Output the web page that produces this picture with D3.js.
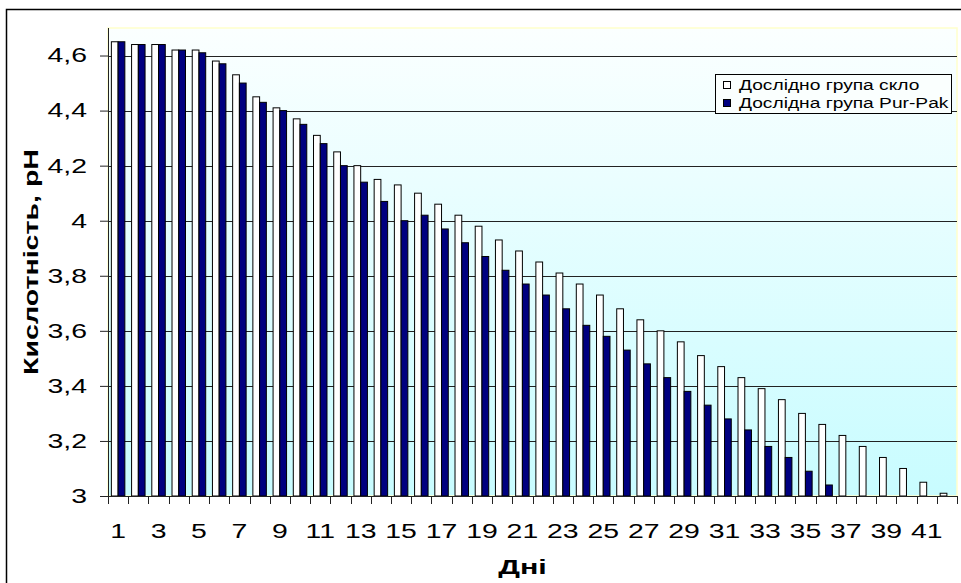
<!DOCTYPE html>
<html>
<head>
<meta charset="utf-8">
<script src="https://cdn.jsdelivr.net/npm/d3@7"></script>
<style>
  body { margin: 0; background: #fff; }
  text { font-family: Arial, "Liberation Sans", sans-serif; }
</style>
</head>
<body>
<div id="canvas"></div>
<script>
"use strict";

/* ---- data ---- */
let days = [1, 2, 3, 4, 5, 6, 7, 8, 9, 10, 11, 12, 13, 14, 15, 16, 17, 18, 19, 20, 21,
            22, 23, 24, 25, 26, 27, 28, 29, 30, 31, 32, 33, 34, 35, 36, 37, 38, 39, 40, 41, 42];

let seriesNames = ["Дослідно група скло", "Дослідна група Pur-Pak"];

let glassValues = [4.65, 4.64, 4.64, 4.62, 4.62, 4.58, 4.53, 4.45, 4.41, 4.37, 4.31, 4.25, 4.20, 4.15,
                   4.13, 4.10, 4.06, 4.02, 3.98, 3.93, 3.89, 3.85, 3.81, 3.77, 3.73, 3.68, 3.64, 3.60,
                   3.56, 3.51, 3.47, 3.43, 3.39, 3.35, 3.30, 3.26, 3.22, 3.18, 3.14, 3.10, 3.05, 3.01];

let purPakValues = [4.65, 4.64, 4.64, 4.62, 4.61, 4.57, 4.50, 4.43, 4.40, 4.35, 4.28, 4.20, 4.14, 4.07,
                    4.00, 4.02, 3.97, 3.92, 3.87, 3.82, 3.77, 3.73, 3.68, 3.62, 3.58, 3.53, 3.48, 3.43,
                    3.38, 3.33, 3.28, 3.24, 3.18, 3.14, 3.09, 3.04, null, null, null, null, null, null];

let yTicks = [3, 3.2, 3.4, 3.6, 3.8, 4, 4.2, 4.4, 4.6];
let xLabelDays = [1, 3, 5, 7, 9, 11, 13, 15, 17, 19, 21, 23, 25, 27, 29, 31, 33, 35, 37, 39, 41];

/* ---- layout ---- */
let svgWidth = 961;
let svgHeight = 583;

let plotLeft = 108;
let plotRight = 957;
let plotTop = 28;
let plotBottom = 496;

let colors = ["#ffffff", "#000080"];

let svg = d3.select("#canvas")
    .append("svg")
    .attr("width", svgWidth)
    .attr("height", svgHeight);

/* the original renders its text noticeably wider than Arial */
function widen(sel, k) {
    sel.each(function () {
        let w = this.getComputedTextLength();
        d3.select(this)
            .attr("textLength", w * k)
            .attr("lengthAdjust", "spacingAndGlyphs");
    });
}

/* outer chart frame (runs off the picture at right/bottom) */
svg.append("rect")
    .attr("x", 6.5)
    .attr("y", 9.5)
    .attr("width", 1000)
    .attr("height", 700)
    .attr("fill", "#fff")
    .attr("stroke", "#000")
    .attr("stroke-width", 1.5);

/* plot background gradient */
let defs = svg.append("defs");
let grad = defs.append("linearGradient")
    .attr("id", "bg")
    .attr("x1", 0).attr("y1", 0)
    .attr("x2", 0).attr("y2", 1);
grad.append("stop").attr("offset", "0%").attr("stop-color", "#fbffff");
grad.append("stop").attr("offset", "100%").attr("stop-color", "#c8fcff");

svg.append("rect")
    .attr("x", plotLeft)
    .attr("y", plotTop)
    .attr("width", plotRight - plotLeft)
    .attr("height", plotBottom - plotTop)
    .attr("fill", "url(#bg)")
    .attr("stroke", "#ffffcc")
    .attr("stroke-width", 1.5);

/* ---- scales ---- */
let xScale = d3.scaleBand()
    .domain(days)
    .range([plotLeft, plotRight])
    .paddingInner(1 / 3)
    .paddingOuter(1 / 6);

let xSub = d3.scaleBand()
    .domain([0, 1])
    .range([0, xScale.bandwidth()]);

let yScale = d3.scaleLinear()
    .domain([3, 4.7])
    .range([plotBottom, plotTop]);

let fmt = v => String(v).replace(".", ",");

/* gridlines */
svg.append("g")
    .selectAll("line")
    .data(yTicks.slice(1))
    .join("line")
    .attr("x1", plotLeft)
    .attr("x2", plotRight)
    .attr("y1", d => Math.round(yScale(d)) + 0.5)
    .attr("y2", d => Math.round(yScale(d)) + 0.5)
    .attr("stroke", "#222")
    .attr("stroke-width", 1);

/* ---- bars ---- */
let series = [glassValues, purPakValues];

series.forEach(function (vals, s) {
    svg.append("g")
        .selectAll("rect")
        .data(days.map((d, i) => ({ day: d, v: vals[i] })).filter(d => d.v !== null))
        .join("rect")
        .attr("x", d => xScale(d.day) + xSub(s))
        .attr("y", d => yScale(d.v))
        .attr("width", xSub.bandwidth())
        .attr("height", d => yScale(3) - yScale(d.v))
        .attr("fill", colors[s])
        .attr("stroke", "#000")
        .attr("stroke-width", 1);
});

/* ---- axes ---- */
let yAxis = svg.append("g")
    .attr("transform", "translate(" + plotLeft + ",0)")
    .call(d3.axisLeft(yScale)
        .tickValues(yTicks)
        .tickFormat(fmt)
        .tickSize(8)
        .tickPadding(13)
        .tickSizeOuter(0));
yAxis.select(".domain").attr("stroke", "#222").attr("d", "M0.5," + plotBottom + "V" + plotTop);
yAxis.selectAll(".tick line").attr("stroke", "#222");
yAxis.selectAll("text")
    .attr("font-size", 20)
    .attr("fill", "#000")
    .call(widen, 1.42);

let step = xScale.step();
let boundaries = days.map(d => xScale(d) - (step - xScale.bandwidth()) / 2).concat([plotRight]);

let xAxis = svg.append("g")
    .attr("transform", "translate(0," + plotBottom + ")")
    .call(d3.axisBottom(xScale)
        .tickValues(xLabelDays)
        .tickSize(0)
        .tickPadding(28)
        .tickSizeOuter(0));
xAxis.select(".domain").attr("stroke", "#222");
xAxis.selectAll("text")
    .attr("font-size", 20)
    .attr("fill", "#000")
    .call(widen, 1.42);

svg.append("g")
    .selectAll("line")
    .data(boundaries)
    .join("line")
    .attr("x1", d => Math.round(d) + 0.5)
    .attr("x2", d => Math.round(d) + 0.5)
    .attr("y1", plotBottom)
    .attr("y2", plotBottom + 8)
    .attr("stroke", "#222");

/* ---- titles ---- */
svg.append("text")
    .attr("transform", "translate(38," + ((plotTop + plotBottom) / 2) + ") rotate(-90)")
    .attr("text-anchor", "middle")
    .attr("font-size", 21)
    .attr("font-weight", "bold")
    .text("Кислотність, pH")
    .call(widen, 1.36);

svg.append("text")
    .attr("x", (plotLeft + plotRight) / 2 - 10)
    .attr("y", 574)
    .attr("text-anchor", "middle")
    .attr("font-size", 21)
    .attr("font-weight", "bold")
    .text("Дні")
    .call(widen, 1.45);

/* ---- legend ---- */
let legX = 715;
let legY = 74;

svg.append("rect")
    .attr("x", legX + 0.5)
    .attr("y", legY + 0.5)
    .attr("width", 236)
    .attr("height", 39)
    .attr("fill", "#fafffe")
    .attr("stroke", "#000")
    .attr("stroke-width", 1);

seriesNames.forEach(function (name, i) {
    let cy = legY + 11 + i * 18;
    svg.append("rect")
        .attr("x", legX + 8.5)
        .attr("y", cy - 3.5)
        .attr("width", 7)
        .attr("height", 7)
        .attr("fill", colors[i])
        .attr("stroke", "#000");
    svg.append("text")
        .attr("x", legX + 24)
        .attr("y", cy)
        .attr("dy", "0.35em")
        .attr("font-size", 14)
        .text(name)
        .call(widen, 1.37);
});
</script>
</body>
</html>
